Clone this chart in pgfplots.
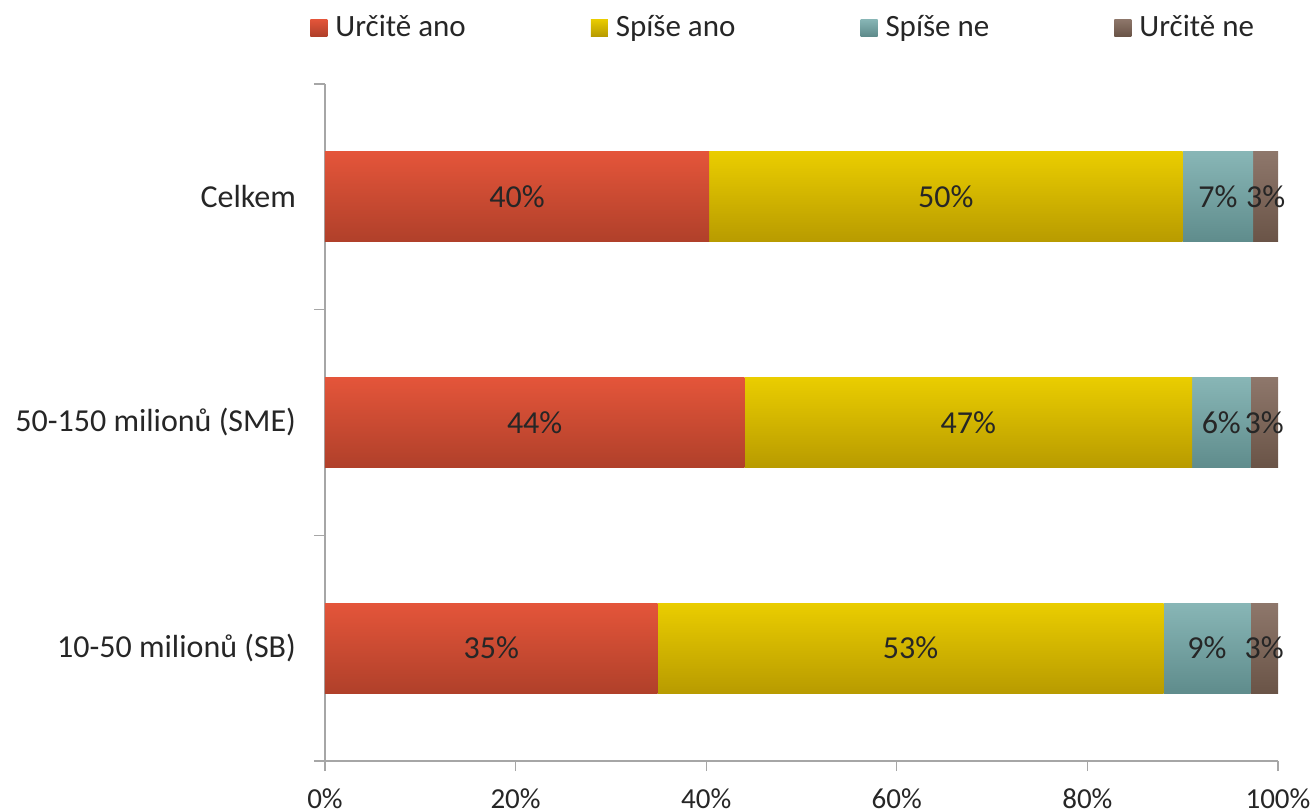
\documentclass[border=0pt]{standalone}
\usepackage{pgfplots}
\usepackage{pgfplotstable}
\pgfplotsset{compat=1.18}
\usepackage{fontspec}
\setmainfont{Carlito}
\definecolor{redT}{HTML}{E4553A}
\definecolor{redB}{HTML}{B0402A}
\definecolor{yelT}{HTML}{EACD00}
\definecolor{yelB}{HTML}{B89B00}
\definecolor{teaT}{HTML}{88B6B6}
\definecolor{teaB}{HTML}{5F8C8C}
\definecolor{broT}{HTML}{8E776B}
\definecolor{broB}{HTML}{6A5447}
\definecolor{axgray}{HTML}{A6A6A6}
\definecolor{txt}{HTML}{262626}
% one small table per category (y = category position)
\pgfplotstableread{
y a b c d
0 34.9 53.1 9.1 2.9
}\rowSB
\pgfplotstableread{
y a b c d
1 44.0 47.0 6.1 2.9
}\rowSME
\pgfplotstableread{
y a b c d
2 40.3 49.7 7.4 2.6
}\rowCelkem
\pgfplotsset{
  rowaxis/.style={
    at={(0,0)}, anchor=south west,
    scale only axis, width=476.5pt, height=338.5pt,
    xbar stacked, bar width=45pt,
    xmin=0, xmax=100, ymin=-0.5, ymax=2.5,
    /pgf/number format/assume math mode=true,
    point meta=explicit,
    nodes near coords={\pgfmathprintnumber[fixed,precision=0]{\pgfplotspointmeta}\%},
    every node near coord/.append style={anchor=center, text=txt,
      font=\fontsize{16}{19}\selectfont},
  },
  seg/.style 2 args={draw=none, top color=#1, bottom color=#2},
}
\newcommand\rowplots[1]{%
  \addplot[seg={redT}{redB}] table[x=a,y=y,meta=a]{#1};
  \addplot[seg={yelT}{yelB}] table[x=b,y=y,meta=b]{#1};
  \addplot[seg={teaT}{teaB}] table[x=c,y=y,meta=c]{#1};
  \addplot[seg={broT}{broB}] table[x=d,y=y,meta=d]{#1};
}
\begin{document}
\begin{tikzpicture}
\begin{axis}[
  rowaxis,
  axis x line*=bottom, axis y line*=left,
  axis line style={axgray, line width=0.6pt},
  tick align=outside,
  major tick length=5pt, minor tick length=5.5pt,
  xtick={0,20,...,100},
  xticklabel={\pgfmathprintnumber{\tick}\%},
  xtick style={axgray, line width=0.6pt},
  xticklabel style={font=\fontsize{14.5}{17}\selectfont, text=txt, yshift=-5.5pt},
  ytick={0,1,2},
  yticklabels={10-50 milionů (SB), 50-150 milionů (SME), Celkem},
  minor ytick={-0.5,0.5,1.5,2.5},
  major y tick style={draw=none},
  minor y tick style={axgray, line width=0.6pt},
  yticklabel style={font=\fontsize{16}{19}\selectfont, text=txt, xshift=-6pt},
  legend columns=4,
  legend style={at={(0,1)}, anchor=west, xshift=-7.5pt, yshift=28.25pt,
    draw=none, fill=none, inner sep=0pt,
    font=\fontsize{15.5}{18}\selectfont, text=txt,
    /tikz/every odd column/.append style={column sep=2pt},
    /tikz/every even column/.append style={column sep=60.5pt}},
  legend image code/.code={\path[#1] (0pt,-4.25pt) rectangle (8.5pt,4.25pt);},
]
\rowplots{\rowCelkem}
\legend{Určitě ano, Spíše ano, Spíše ne, Určitě ne}
\end{axis}
\begin{axis}[rowaxis, hide axis]
\rowplots{\rowSME}
\end{axis}
\begin{axis}[rowaxis, hide axis]
\rowplots{\rowSB}
\end{axis}
\pgfresetboundingbox
\path[use as bounding box] (-162.5pt,-25pt) rectangle (493.5pt,380.5pt);
\end{tikzpicture}
\end{document}
